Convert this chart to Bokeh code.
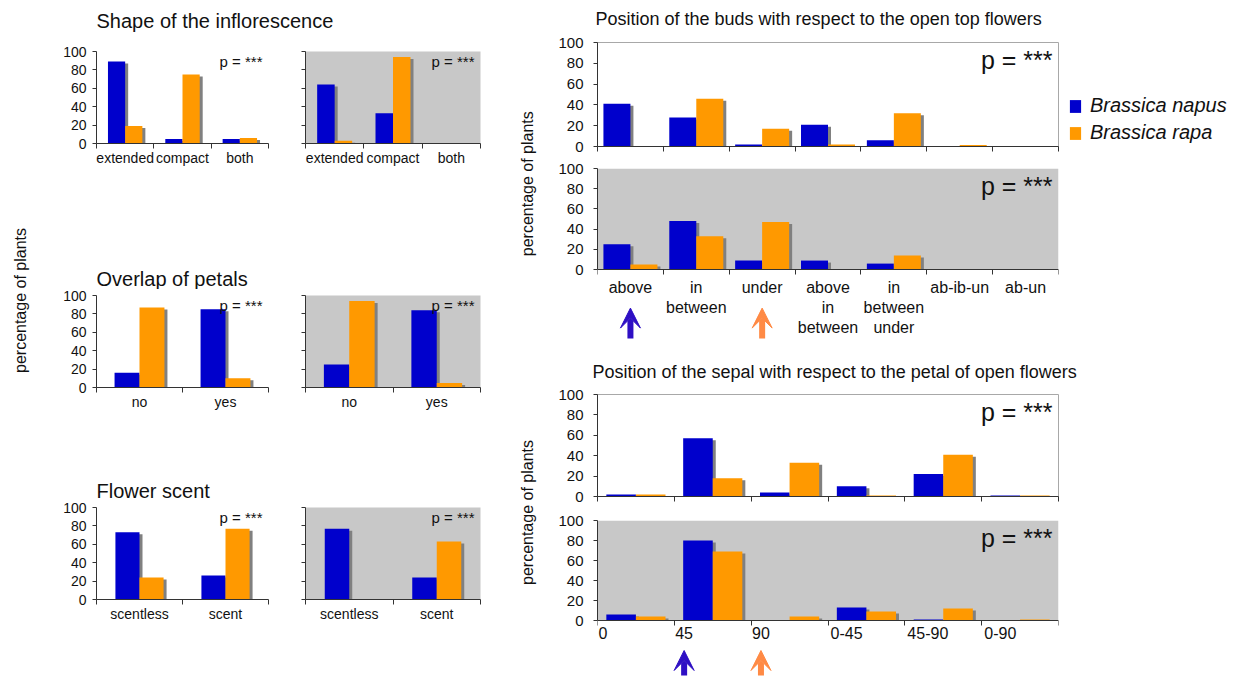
import math
from bokeh.plotting import figure
from bokeh.layouts import row, column
from bokeh.models import (Range1d, FixedTicker, Label, Legend, LegendItem,
                          BoxAnnotation, Arrow, VeeHead)
from bokeh.embed import file_html
from bokeh.resources import INLINE

# ---------------- data ----------------
shape_cats = ["extended", "compact", "both"]
shape_napus_a = [89, 5, 5]
shape_rapa_a = [19, 75, 6]
shape_napus_b = [64, 33, 0]
shape_rapa_b = [3, 94, 0]

overlap_cats = ["no", "yes"]
overlap_napus_a = [16, 85]
overlap_rapa_a = [87, 10]
overlap_napus_b = [25, 84]
overlap_rapa_b = [94, 5]

scent_cats = ["scentless", "scent"]
scent_napus_a = [73, 26]
scent_rapa_a = [24, 77]
scent_napus_b = [77, 24]
scent_rapa_b = [0, 63]

buds_cats = ["above", "in\nbetween", "under", "above\nin\nbetween",
             "in\nbetween\nunder", "ab-ib-un", "ab-un"]
buds_napus_a = [41, 28, 2, 21, 6, 0.5, 0]
buds_rapa_a = [0, 46, 17, 2, 32, 1.5, 0]
buds_napus_b = [25, 48, 9, 9, 6, 0.5, 0.5]
buds_rapa_b = [5, 33, 47, 0, 14, 0, 0]
buds_arrow_napus = "above"
buds_arrow_rapa = "under"

sepal_cats = ["0", "45", "90", "0-45", "45-90", "0-90"]
sepal_napus_a = [2, 57, 4, 10, 22, 1]
sepal_rapa_a = [2, 18, 33, 1, 41, 1]
sepal_napus_b = [6, 80, 0, 13, 1, 0]
sepal_rapa_b = [4, 69, 4, 9, 12, 1]
sepal_arrow_napus = "45"
sepal_arrow_rapa = "90"

y_ticks = [0, 20, 40, 60, 80, 100]
p_text = "p = ***"
species = ["Brassica napus", "Brassica rapa"]
y_title = "percentage of plants"

# ---------------- style ----------------
FONT = "Liberation Sans"
BLUE = "#0000CC"
ORANGE = "#FF9900"
GRAY_BG = "#C8C8C8"
SHADOW = "#808080"
AXIS = "#333333"
TXT = "#111111"
ARROW_BLUE = "#2E0FC4"
ARROW_ORANGE = "#FF8A45"


def text_fig(w, h, labels):
    p = figure(width=w, height=h, x_range=Range1d(0, w), y_range=Range1d(h, 0),
               min_border=0, toolbar_location=None, output_backend="svg",
               x_axis_type=None, y_axis_type=None)
    p.outline_line_color = None
    p.background_fill_color = "white"
    p.border_fill_color = "white"
    for (x, y, t, size, angle, align) in labels:
        p.add_layout(Label(x=x, y=y, text=t, text_font=FONT, text_font_size=size,
                           text_baseline="middle", text_align=align, angle=angle,
                           text_color=TXT))
    return p


def panel(cats, napus, rapa, fw, fh, bl, br, bt, bb, gray=False, ylabels=True,
          xlabels=True, bar_w=0.3, tick_fs="14px", cat_fs="14px", p_fs="15px",
          y_lo=0, left_labels=False, outline=None, tick_standoff=6,
          cat_standoff=1, p_dy=-1, arrows=None):
    n = len(cats)
    p = figure(frame_width=fw, frame_height=fh, x_range=Range1d(0, n),
               y_range=Range1d(y_lo, 100), min_border_left=bl, min_border_right=br,
               min_border_top=bt, min_border_bottom=bb, toolbar_location=None,
               output_backend="svg")
    p.grid.visible = False
    p.border_fill_color = "white"
    p.background_fill_color = GRAY_BG if (gray and y_lo == 0) else "white"
    if gray and y_lo < 0:
        p.add_layout(BoxAnnotation(bottom=0, top=100, fill_color=GRAY_BG, fill_alpha=1.0,
                                   line_color=None, level="underlay"))
    p.outline_line_color = outline

    px_x = fw / n
    px_y = fh / (100 - y_lo)
    dx = 3.0 / px_x
    dy = 2.0 / px_y
    xn = [i + 0.5 - bar_w / 2 for i in range(n)]
    xr = [i + 0.5 + bar_w / 2 for i in range(n)]
    for xs, vals in ((xn, napus), (xr, rapa)):
        p.quad(left=[x - bar_w / 2 + dx for x in xs], right=[x + bar_w / 2 + dx for x in xs],
               bottom=0, top=[max(v - dy, 0) for v in vals], fill_color=SHADOW, line_color=None)
    rn = p.vbar(x=xn, width=bar_w, top=napus, bottom=0, fill_color=BLUE, line_color=None)
    rr = p.vbar(x=xr, width=bar_w, top=rapa, bottom=0, fill_color=ORANGE, line_color=None)

    # x axis
    xa = p.xaxis[0]
    if xlabels:
        if left_labels:
            pos = [round(i + (len(c) * 0.55 * 16 / 2 + 1) / px_x, 4) for i, c in enumerate(cats)]
        else:
            pos = [i + 0.5 for i in range(n)]
        xa.ticker = FixedTicker(ticks=pos, minor_ticks=list(range(n + 1)))
        xa.major_label_overrides = {ps: c for ps, c in zip(pos, cats)}
    else:
        pos = [i + 0.5 for i in range(n)]
        xa.ticker = FixedTicker(ticks=[], minor_ticks=list(range(n + 1)))
    xa.major_tick_line_color = None
    xa.major_tick_out = 0
    xa.major_tick_in = 0
    xa.minor_tick_line_color = AXIS
    xa.minor_tick_out = 5
    xa.minor_tick_in = 0
    xa.axis_line_color = AXIS
    xa.major_label_text_font = FONT
    xa.major_label_text_font_size = cat_fs
    xa.major_label_text_color = TXT
    xa.major_label_standoff = cat_standoff
    if y_lo < 0:
        xa.fixed_location = 0

    # y axis
    ya = p.yaxis[0]
    ya.ticker = FixedTicker(ticks=y_ticks)
    ya.bounds = (0, 100)
    ya.axis_line_color = AXIS
    ya.major_tick_line_color = AXIS
    ya.major_tick_out = 4
    ya.major_tick_in = 0
    ya.minor_tick_line_color = None
    ya.major_label_text_font = FONT
    ya.major_label_text_font_size = tick_fs
    ya.major_label_text_color = TXT
    ya.major_label_standoff = tick_standoff
    if not ylabels:
        ya.major_label_overrides = {t: "" for t in y_ticks}

    p.add_layout(Label(x=n, y=100, x_offset=-6, y_offset=p_dy, text=p_text,
                       text_align="right", text_baseline="top", text_font=FONT,
                       text_font_size=p_fs, text_color=TXT))

    if arrows:
        for (cat, color, y0, y1) in arrows:
            i = cats.index(cat)
            x = pos[i]
            p.add_layout(Arrow(end=VeeHead(size=20, fill_color=color, line_color=color),
                               x_start=x, y_start=y0, x_end=x, y_end=y1,
                               line_color=color, line_width=6))
    return p, rn, rr


# ---------------- left column ----------------
LW_FW, LG_FW = 172, 175
A1, _, _ = panel(shape_cats, shape_napus_a, shape_rapa_a, LW_FW, 92, 38, 19, 17, 123)
A2, _, _ = panel(shape_cats, shape_napus_b, shape_rapa_b, LG_FW, 92, 18, 20, 17, 123,
                 gray=True, ylabels=False)
B1, _, _ = panel(overlap_cats, overlap_napus_a, overlap_rapa_a, LW_FW, 92, 38, 19, 6, 90, bar_w=0.29)
B2, _, _ = panel(overlap_cats, overlap_napus_b, overlap_rapa_b, LG_FW, 92, 18, 20, 6, 90,
                 gray=True, ylabels=False, bar_w=0.29)
C1, _, _ = panel(scent_cats, scent_napus_a, scent_rapa_a, LW_FW, 92, 38, 19, 7, 30, bar_w=0.28)
C2, _, _ = panel(scent_cats, scent_napus_b, scent_rapa_b, LG_FW, 92, 18, 20, 7, 30,
                 gray=True, ylabels=False, bar_w=0.28)

LSW = 38 + LW_FW + 19 + 18 + LG_FW + 20
tA = text_fig(LSW, 34, [(38, 20, "Shape of the inflorescence", "20px", 0, "left")])
tB = text_fig(LSW, 23, [(38, 12, "Overlap of petals", "20px", 0, "left")])
tC = text_fig(LSW, 23, [(38, 13, "Flower scent", "20px", 0, "left")])
left_stack = column(tA, row(A1, A2), tB, row(B1, B2), tC, row(C1, C2))
left_ylab = text_fig(58, 676, [(20, 300, y_title, "16px", math.pi / 2, "center")])

# ---------------- right column ----------------
RFW = 461
R_BL, R_BR = 52, 178
R_kw = dict(tick_fs="15px", cat_fs="16px", p_fs="25px", tick_standoff=10, p_dy=-3)

Bu1, rn, rr = panel(buds_cats, buds_napus_a, buds_rapa_a, RFW, 104, R_BL, R_BR, 10, 12,
                    xlabels=False, bar_w=0.41, outline="#A8A8A8", **R_kw)
legend = Legend(items=[LegendItem(label=species[0], renderers=[rn]),
                       LegendItem(label=species[1], renderers=[rr])],
                location=(10, 2), label_text_font=FONT, label_text_font_size="20px",
                label_text_font_style="italic", label_text_color=TXT,
                glyph_width=14, glyph_height=16, label_height=22, label_standoff=8,
                spacing=4, padding=4, margin=0, border_line_color=None,
                background_fill_alpha=0)
Bu1.add_layout(legend, "right")

Bu2, _, _ = panel(buds_cats, buds_napus_b, buds_rapa_b, RFW, 174, R_BL, R_BR, 10, 0,
                  gray=True, bar_w=0.41, y_lo=-72, cat_standoff=4,
                  arrows=[(buds_arrow_napus, ARROW_BLUE, -68, -38),
                          (buds_arrow_rapa, ARROW_ORANGE, -68, -38)], **R_kw)

Se1, _, _ = panel(sepal_cats, sepal_napus_a, sepal_rapa_a, RFW, 102, R_BL, R_BR, 12, 12,
                  xlabels=False, bar_w=0.385, outline="#A8A8A8", **R_kw)
Se2, _, _ = panel(sepal_cats, sepal_napus_b, sepal_rapa_b, RFW, 156, R_BL, R_BR, 12, 0,
                  gray=True, bar_w=0.385, y_lo=-56, left_labels=True, cat_standoff=1,
                  arrows=[(sepal_arrow_napus, ARROW_BLUE, -55, -30),
                          (sepal_arrow_rapa, ARROW_ORANGE, -55, -30)], **R_kw)

RSW = R_BL + RFW + R_BR
tR1 = text_fig(RSW, 32, [(50, 18, "Position of the buds with respect to the open top flowers",
                          "18px", 0, "left")])
tR2 = text_fig(RSW, 40, [(47, 29, "Position of the sepal with respect to the petal of open flowers",
                          "18px", 0, "left")])
right_stack = column(tR1, row(Bu1), row(Bu2), tR2, row(Se1), row(Se2))
right_ylab = text_fig(45, 676, [(27, 181, "percentage of  plants", "16px", math.pi / 2, "center"),
                                (27, 512, y_title, "16px", math.pi / 2, "center")])

layout = row(left_ylab, left_stack, right_ylab, right_stack)

with open("out.html", "w") as f:
    f.write(file_html(layout, INLINE))
